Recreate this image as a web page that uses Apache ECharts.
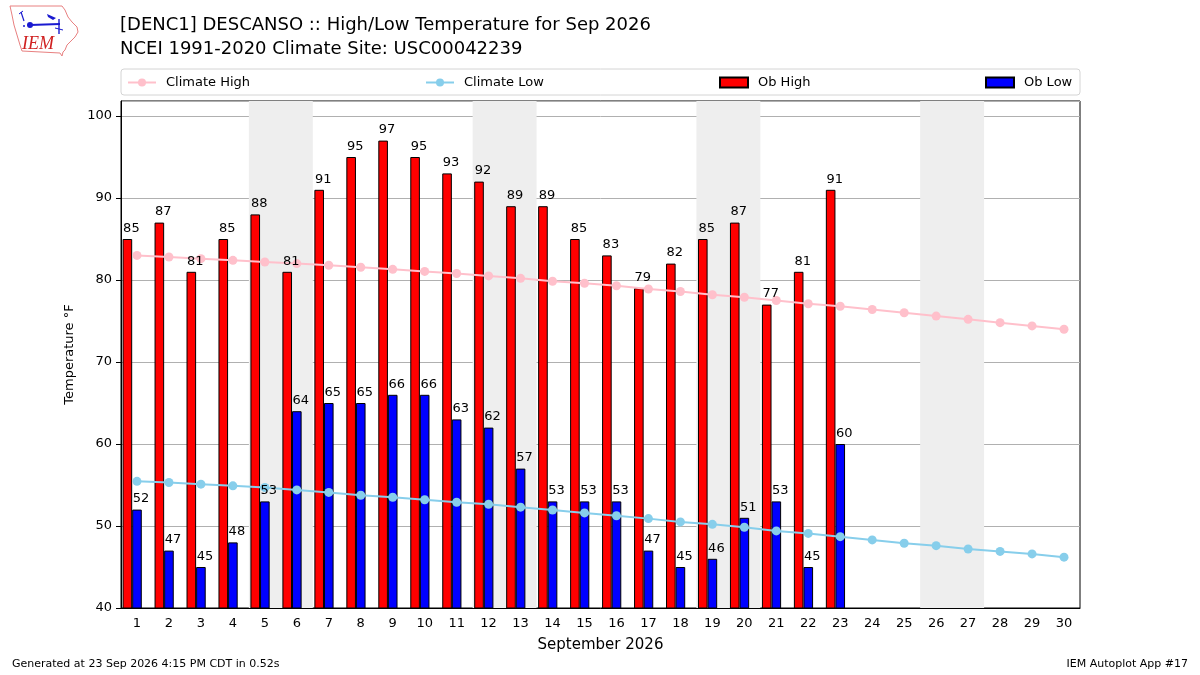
<!DOCTYPE html>
<html>
<head>
<meta charset="utf-8">
<script src="https://cdn.jsdelivr.net/npm/echarts@6/dist/echarts.min.js"></script>
<style>
  html, body { margin: 0; padding: 0; background: #fff; }
  #main { width: 1200px; height: 675px; }
</style>
</head>
<body>
<div id="main"></div>
<script>
// data
var days = [];
for (var d = 1; d <= 30; d++) days.push(String(d));

var obHigh = [85, 87, 81, 85, 88, 81, 91, 95, 97, 95, 93, 92, 89, 89, 85, 83, 79, 82, 85, 87, 77, 81, 91];
var obLow = [52, 47, 45, 48, 53, 64, 65, 65, 66, 66, 63, 62, 57, 53, 53, 53, 47, 45, 46, 51, 53, 45, 60];

var climateHigh = [83.0, 82.8, 82.6, 82.4, 82.2, 82.0, 81.8, 81.55, 81.3, 81.05,
  80.8, 80.5, 80.2, 79.85, 79.6, 79.3, 78.9, 78.6, 78.2, 77.9,
  77.5, 77.1, 76.8, 76.4, 76.0, 75.6, 75.2, 74.8, 74.4, 74.0];
var climateLow = [55.45, 55.3, 55.1, 54.9, 54.7, 54.4, 54.1, 53.75, 53.5, 53.2,
  52.9, 52.65, 52.3, 51.95, 51.6, 51.25, 50.9, 50.5, 50.2, 49.85,
  49.4, 49.1, 48.7, 48.3, 47.9, 47.6, 47.2, 46.9, 46.6, 46.2];

// first day of each weekend (Sat) in Sep 2026
var weekendStarts = [5, 12, 19, 26];

var FONT = 'DejaVu Sans';

var bands = weekendStarts.map(function (s) {
  return [{ xAxis: s - 0.5 }, { xAxis: s + 1.5 }];
});

// Iowa outline for the logo (decoration only)
var iowa = [[10, 6], [62, 6], [65, 10], [68, 17], [72, 22], [77, 27], [78, 32], [75, 37], [70, 42], [67, 45], [65, 50], [63, 52], [62, 56], [60, 53], [22, 51], [20, 45], [17, 35], [14, 25], [12, 15], [10, 6]];

var barLabel = {
  show: true, position: 'top', distance: 4, offset: [4, 0],
  fontFamily: FONT, fontSize: 13, color: '#000'
};

// bars sit on axis 0, their value labels are drawn again on axis 2 above the climate lines
function barSeries(name, data, color, axis, labels) {
  return {
    name: name, type: 'bar', data: data, xAxisIndex: axis,
    barWidth: 9.6, barGap: '0%', z: labels ? 5 : 2, silent: labels,
    itemStyle: labels ? { color: 'rgba(0,0,0,0)' } : { color: color, borderColor: '#000', borderWidth: 1 },
    label: labels ? barLabel : { show: false }
  };
}

var blue = '#1a1ad0';
var chart = echarts.init(document.getElementById('main'));
var option = {
  animation: false,
  backgroundColor: '#fff',
  title: {
    text: '[DENC1] DESCANSO :: High/Low Temperature for Sep 2026\nNCEI 1991-2020 Climate Site: USC00042239',
    left: 115, top: 8,
    textStyle: { fontFamily: FONT, fontSize: 18, fontWeight: 'normal', color: '#000', lineHeight: 24 }
  },
  legend: [
    { data: ['Climate High'], left: 127, top: 76 },
    { data: ['Climate Low'], left: 425, top: 76 },
    { data: [{ name: 'Ob High', icon: 'rect' }], left: 719, top: 76 },
    { data: [{ name: 'Ob Low', icon: 'rect' }], left: 985, top: 76 }
  ].map(function (l) {
    l.itemWidth = 28; l.itemHeight = 10; l.padding = 0;
    l.textStyle = { fontFamily: FONT, fontSize: 13, color: '#000', padding: [0, 0, 0, 5] };
    return l;
  }),
  grid: {
    left: 121, right: 120, top: 101, bottom: 67,
    show: true, borderColor: '#000', borderWidth: 1, backgroundColor: 'transparent'
  },
  xAxis: [{
    type: 'category',
    data: days,
    name: 'September 2026',
    nameLocation: 'middle',
    nameGap: 30,
    nameTextStyle: { fontFamily: FONT, fontSize: 15, color: '#000' },
    axisLine: { lineStyle: { color: '#000' } },
    axisTick: { alignWithLabel: true, length: 5, lineStyle: { color: '#000' } },
    axisLabel: { fontFamily: FONT, fontSize: 13, color: '#000', margin: 9, interval: 0 },
    splitLine: { show: false }
  }, {
    type: 'value', min: 0.5, max: 30.5, show: false
  }, {
    type: 'category', data: days, show: false, position: 'bottom'
  }],
  yAxis: {
    type: 'value',
    min: 40, max: 101.83, interval: 10,
    name: 'Temperature °F',
    nameLocation: 'middle',
    nameGap: 45,
    nameRotate: 90,
    nameTextStyle: { fontFamily: FONT, fontSize: 13, color: '#000' },
    axisLine: { show: true, lineStyle: { color: '#000' } },
    axisTick: { show: true, length: 5, lineStyle: { color: '#000' } },
    axisLabel: { fontFamily: FONT, fontSize: 13, color: '#000', margin: 9, showMaxLabel: false },
    splitLine: { show: true, lineStyle: { color: '#b0b0b0', width: 1 } }
  },
  graphic: [
    {
      type: 'rect', z: 0,
      shape: { x: 121, y: 69, width: 959, height: 26, r: 3 },
      style: { fill: '#fff', stroke: '#d4d4d4', lineWidth: 1 }
    },
    // IEM logo
    { type: 'polyline', shape: { points: iowa }, style: { stroke: '#e88080', lineWidth: 1, fill: 'none' } },
    { type: 'line', shape: { x1: 21, y1: 12, x2: 24, y2: 21 }, style: { stroke: blue, lineWidth: 1.2 } },
    { type: 'line', shape: { x1: 19, y1: 14, x2: 23, y2: 11 }, style: { stroke: blue, lineWidth: 1 } },
    { type: 'circle', shape: { cx: 30, cy: 25, r: 3 }, style: { fill: blue } },
    { type: 'circle', shape: { cx: 24, cy: 26, r: 1 }, style: { fill: blue } },
    { type: 'line', shape: { x1: 30, y1: 25, x2: 60, y2: 24 }, style: { stroke: blue, lineWidth: 2.2 } },
    { type: 'polygon', shape: { points: [[47, 14], [56, 18], [53, 20], [48, 17]] }, style: { fill: blue } },
    { type: 'line', shape: { x1: 59, y1: 19, x2: 59, y2: 34 }, style: { stroke: blue, lineWidth: 1.4 } },
    { type: 'line', shape: { x1: 55, y1: 28, x2: 63, y2: 30 }, style: { stroke: blue, lineWidth: 1 } },
    { type: 'text', x: 22, y: 35, style: { text: 'IEM', fontFamily: 'Liberation Serif', fontStyle: 'italic', fontSize: 18, fill: '#d02020' } },
    {
      type: 'text', left: 12, top: 659,
      style: { text: 'Generated at 23 Sep 2026 4:15 PM CDT in 0.52s', fontFamily: FONT, fontSize: 11, fill: '#000' }
    },
    {
      type: 'text', right: 12, top: 659,
      style: { text: 'IEM Autoplot App #17', fontFamily: FONT, fontSize: 11, fill: '#000' }
    }
  ],
  series: [
    {
      name: 'weekends', type: 'line', xAxisIndex: 1, data: [], z: -1, silent: true,
      markArea: { silent: true, itemStyle: { color: '#eeeeee' }, data: bands }
    },
    barSeries('Ob High', obHigh, '#ff0000', 0, false),
    barSeries('Ob Low', obLow, '#0000ff', 0, false),
    // empty slot so the red/blue pair sits like the original (blue on the tick)
    { name: 'spacer', type: 'bar', data: [], barWidth: 9.6, barGap: '0%' },
    barSeries('Ob High values', obHigh, null, 2, true),
    barSeries('Ob Low values', obLow, null, 2, true),
    { name: 'spacer2', type: 'bar', xAxisIndex: 2, data: [], barWidth: 9.6, barGap: '0%' },
    {
      name: 'Climate High', type: 'line', data: climateHigh, z: 3,
      symbol: 'circle', symbolSize: 9,
      lineStyle: { color: '#ffc0cb', width: 2 },
      itemStyle: { color: '#ffc0cb' }
    },
    {
      name: 'Climate Low', type: 'line', data: climateLow, z: 3,
      symbol: 'circle', symbolSize: 9,
      lineStyle: { color: '#87ceeb', width: 2 },
      itemStyle: { color: '#87ceeb' }
    }
  ]
};
chart.setOption(option);
</script>
</body>
</html>
